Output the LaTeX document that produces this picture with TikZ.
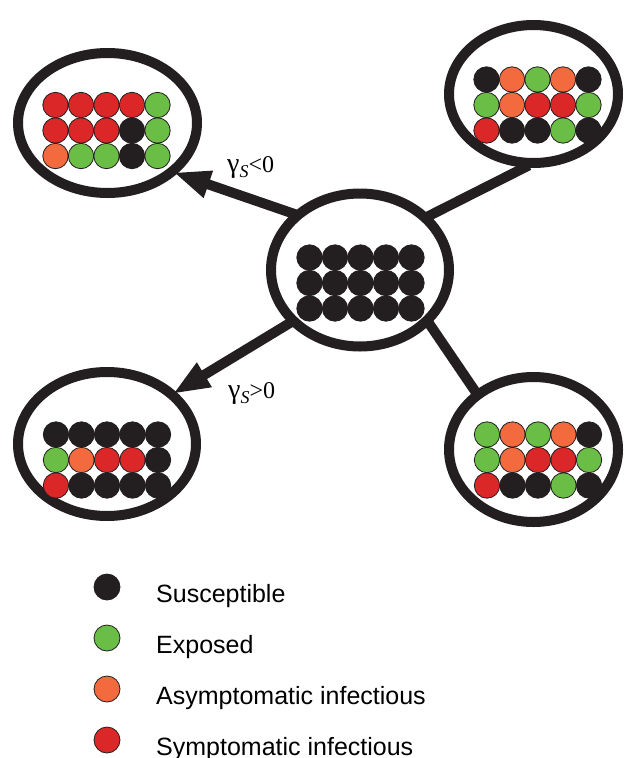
\documentclass[tikz,border=0pt]{standalone}
\usepackage{fontspec}
\setmainfont{Liberation Serif}
\newfontfamily\legendfont{Liberation Sans}
\usetikzlibrary{arrows.meta,shapes.geometric}

\definecolor{cK}{HTML}{231F20}
\definecolor{cG}{HTML}{6ABD45}
\definecolor{cO}{HTML}{F26A3D}
\definecolor{cR}{HTML}{DB2727}

% 5x3 block of coloured dots centred on (#1,#2); #3 lists the fills row by row
\newcommand\dotgrid[3]{%
  \foreach \dc [count=\k from 0] in {#3}{%
    \pgfmathtruncatemacro\cc{mod(\k,5)}%
    \pgfmathtruncatemacro\rr{div(\k,5)}%
    \filldraw[griddot, fill=\dc] ({#1+(\cc-2)*25.5},{#2+(\rr-1)*25.5}) circle[radius=12.7pt];
  }%
}
% rate symbol with its subscript
\newcommand\gammaS{{\fontsize{28}{28}\selectfont γ}\raisebox{-0.22em}{\fontsize{18}{18}\selectfont\itshape S}}

\begin{document}
\begin{tikzpicture}[x=1pt,y=-1pt,
  ring/.style={ellipse, draw=cK, line width=10pt, inner sep=0pt, outer sep=5pt},
  link/.style={draw=cK, line width=10pt},
  bigtip/.style={-{Triangle[length=37pt,width=26pt]}},
  griddot/.style={draw=cK, line width=0.8pt},
  keydot/.style={circle, draw=cK, line width=0.8pt, minimum size=26pt, inner sep=0pt},
  rate/.style={anchor=base west, inner sep=0pt, font=\fontsize{24}{28}\selectfont},
  legtext/.style={anchor=base west, inner sep=0pt, font=\legendfont\fontsize{25}{29}\selectfont}]

\fill[white] (0,0) rectangle (624,758);
\useasboundingbox (0,0) rectangle (624,758);

% population rings
\node[ring, minimum width=178pt, minimum height=153pt] (c)  at (360,270) {};
\node[ring, minimum width=179pt, minimum height=140pt] (tl) at (107.5,123) {};
\node[ring, minimum width=169pt, minimum height=138pt] (tr) at (533.5,94) {};
\node[ring, minimum width=178pt, minimum height=144pt] (bl) at (107,444) {};
\node[ring, minimum width=169pt, minimum height=145pt] (br) at (533.5,449.5) {};

% connectors
\draw[link, bigtip, shorten <=-5pt, shorten >=-4pt] (c.140.8) -- (tl.324.3);
\draw[link, bigtip, shorten <=-5pt, shorten >=-4pt] (c.217.1) -- (bl.37.4);
\draw[link, shorten <=-5pt, shorten >=-5pt] (c.38.2) -- (tr.263.6);
\draw[link, shorten <=-5pt, shorten >=-5pt] (c.322.9) -- (br.135.9);

% rate labels
\node[rate] (gneg) at (227,172) {\gammaS<0};
\node[rate] (gpos) at (228,398) {\gammaS>0};

% dot blocks
\dotgrid{360.5}{283}{cK,cK,cK,cK,cK, cK,cK,cK,cK,cK, cK,cK,cK,cK,cK}
\dotgrid{106.5}{130.5}{cR,cR,cR,cR,cG, cR,cR,cR,cK,cG, cO,cG,cG,cK,cG}
\dotgrid{537.5}{105}{cK,cO,cG,cO,cK, cG,cO,cR,cR,cG, cR,cK,cK,cG,cK}
\dotgrid{107}{460}{cK,cK,cK,cK,cK, cG,cO,cR,cR,cK, cR,cK,cK,cK,cK}
\dotgrid{538}{460}{cG,cO,cG,cO,cK, cG,cO,cR,cR,cG, cR,cK,cK,cG,cK}

% legend
\foreach \dc/\txt [count=\i from 0] in {cK/Susceptible, cG/Exposed, cO/Asymptomatic infectious, cR/Symptomatic infectious}{
  \node[keydot, fill=\dc] (key\i) at (107,{587+\i*51}) {};
  \node[legtext] (lab\i) at (156,{602.5+\i*51}) {\txt};
}
\end{tikzpicture}
\end{document}
